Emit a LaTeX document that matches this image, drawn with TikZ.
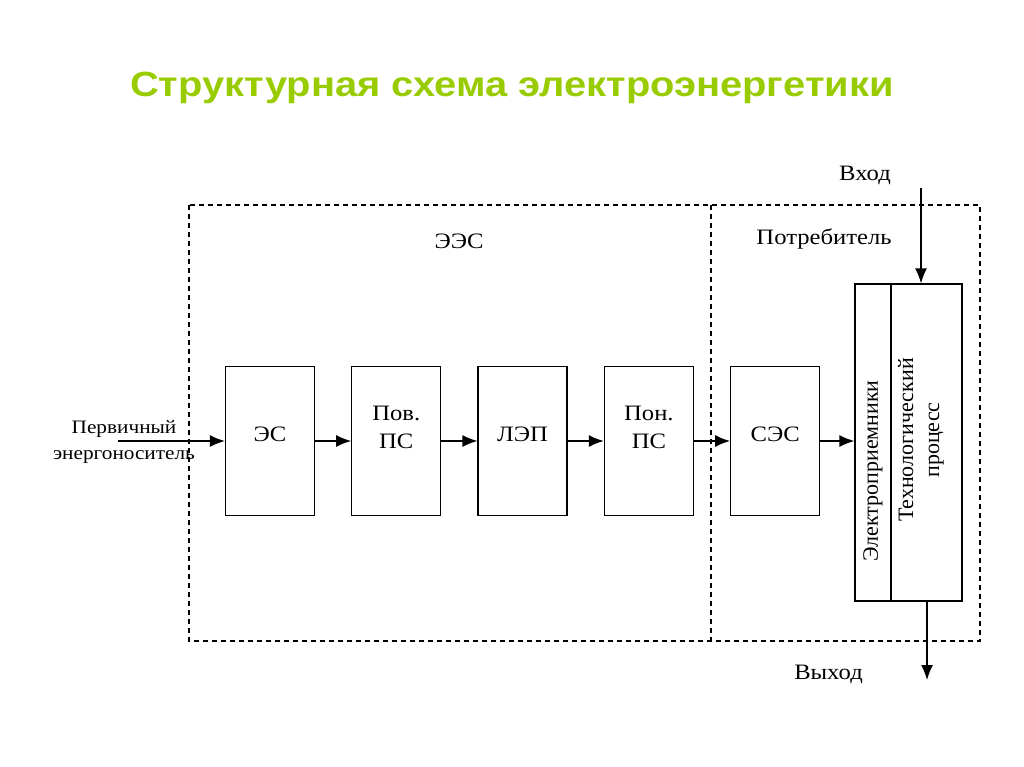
\documentclass[tikz,border=0pt]{standalone}
\usepackage{fontspec}
\setmainfont{Liberation Serif}[FakeStretch=1.12]
\newfontfamily\vertfont{Liberation Serif}
\newfontfamily\titlefont{Liberation Sans}[FakeStretch=1.14]
\usetikzlibrary{arrows.meta,positioning}
\definecolor{titlegreen}{RGB}{153,204,0}

\begin{document}
\begin{tikzpicture}[x=1pt,y=-1pt,>={Latex[length=15pt,width=12pt]},line width=1.3pt]
        \tikzset{blk/.style={draw, rectangle, align=center, minimum width=89pt, minimum height=149pt, inner sep=0pt, font=\fontsize{22}{28}\selectfont},
        one/.style={text height=15pt, text depth=15pt},
        tall/.style={draw, rectangle, minimum height=317pt, inner sep=0pt},
        lbl/.style={font=\fontsize{22}{28}\selectfont, anchor=base},
        vtxt/.style={rotate=90, align=center, inner sep=0pt, font=\vertfont\fontsize{22}{26}\selectfont},
        dashbox/.style={draw, dash pattern=on 5pt off 4pt},
        }
        \useasboundingbox (0,0) rectangle (1024,767);

        \node [anchor=base, text=titlegreen, font=\titlefont\bfseries\fontsize{35}{40}\selectfont] (title) at (512,97) {Структурная схема электроэнергетики};

%%% frames
        \draw[dashbox] (189,205) rectangle (980,641);
        \draw[dashbox] (711,205) -- (711,641);
        \node [lbl] (ees_lbl) at (459,248) {ЭЭС};
        \node [lbl] (potr) at (824,244) {Потребитель};

%%% blocks
        \node [blk, one] (es) at (270,441) {ЭС};
        \node [blk, right=36pt of es] (pov) {Пов.\\ПС\\\mbox{}};
        \node [blk, one, right=36pt of pov] (lep) {ЛЭП};
        \node [blk, right=36pt of lep] (pon) {Пон.\\ПС\\\mbox{}};
        \node [blk, one, right=36pt of pon] (ses) {СЭС};

        \node [tall, minimum width=36pt] (elpr) at (873,442.5) {};
        \node [tall, minimum width=71pt, right=-1.3pt of elpr] (tech) {};
        \node [vtxt] (elpr_txt) at (873,471) {Электроприемники};
        \node [vtxt] (tech_txt) at (921,440) {Технологический\\процесс};

        \node [align=center, font=\fontsize{19}{26}\selectfont] (prim) at (124,442) {Первичный\\энергоноситель};
        \node [lbl] (vhod) at (865,181) {Вход};
        \node [lbl] (vyhod) at (828.5,679) {Выход};

        \coordinate (src) at (118,441);
        \coordinate (vhod_top) at (921,188);
        \coordinate (vyhod_end) at (927,680);

%%% paths
        \path[->] (src) edge (es)
                    (es) edge (pov)
                    (pov) edge (lep)
                    (lep) edge (pon)
                    (pon) edge (ses)
                    (ses) edge (ses -| elpr.west)
                    (vhod_top) edge (vhod_top |- tech.north)
                    (vyhod_end |- tech.south) edge (vyhod_end)
                    ;
\end{tikzpicture}
\end{document}
